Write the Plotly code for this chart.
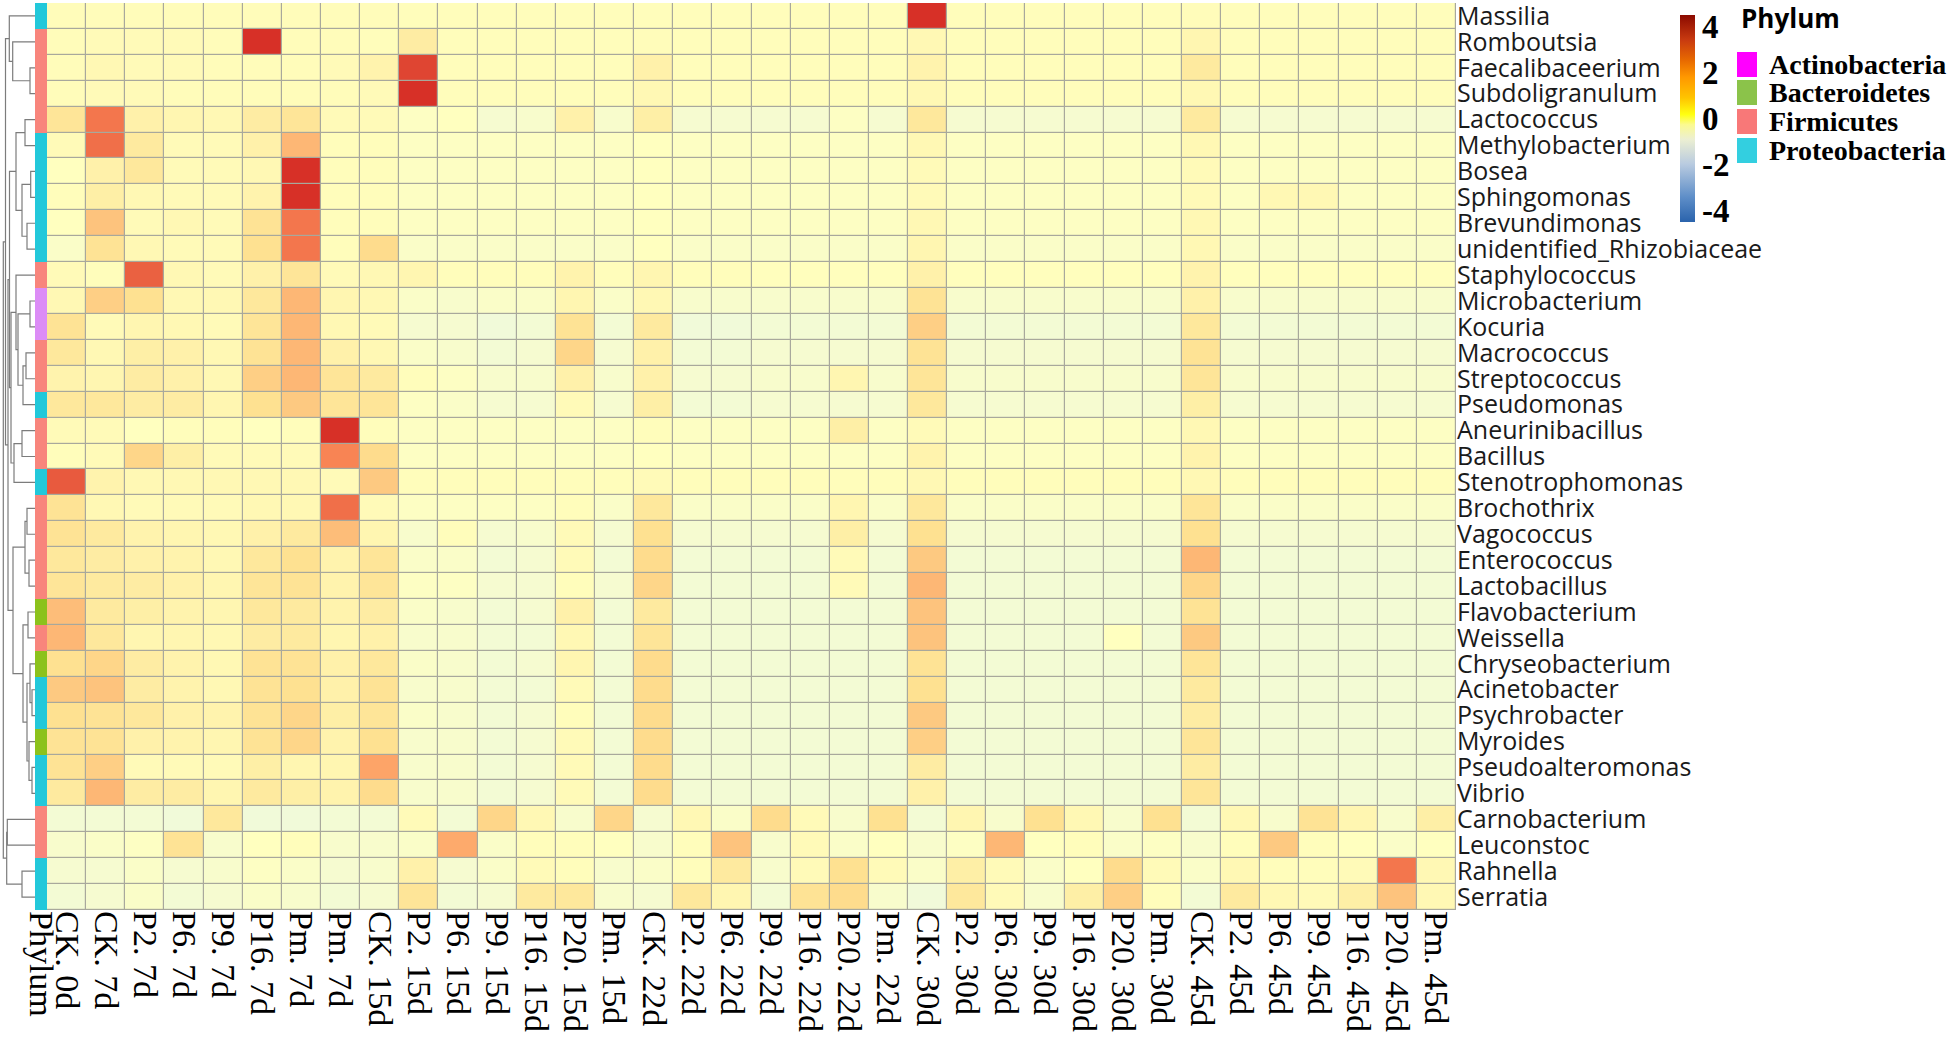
import plotly.graph_objects as go

W, H = 1950, 1047
TOP, BOTTOM = 3, 137
PLOT_H = H - TOP - BOTTOM

genera = ["Massilia", "Romboutsia", "Faecalibaceerium", "Subdoligranulum", "Lactococcus",
          "Methylobacterium", "Bosea", "Sphingomonas", "Brevundimonas", "unidentified_Rhizobiaceae",
          "Staphylococcus", "Microbacterium", "Kocuria", "Macrococcus", "Streptococcus",
          "Pseudomonas", "Aneurinibacillus", "Bacillus", "Stenotrophomonas", "Brochothrix",
          "Vagococcus", "Enterococcus", "Lactobacillus", "Flavobacterium", "Weissella",
          "Chryseobacterium", "Acinetobacter", "Psychrobacter", "Myroides", "Pseudoalteromonas",
          "Vibrio", "Carnobacterium", "Leuconstoc", "Rahnella", "Serratia"]

samples = ["CK. 0d",
           "CK. 7d", "P2. 7d", "P6. 7d", "P9. 7d", "P16. 7d", "Pm. 7d", "Pm. 7d",
           "CK. 15d", "P2. 15d", "P6. 15d", "P9. 15d", "P16. 15d", "P20. 15d", "Pm. 15d",
           "CK. 22d", "P2. 22d", "P6. 22d", "P9. 22d", "P16. 22d", "P20. 22d", "Pm. 22d",
           "CK. 30d", "P2. 30d", "P6. 30d", "P9. 30d", "P16. 30d", "P20. 30d", "Pm. 30d",
           "CK. 45d", "P2. 45d", "P6. 45d", "P9. 45d", "P16. 45d", "P20. 45d", "Pm. 45d"]

phyla = ["Actinobacteria", "Bacteroidetes", "Firmicutes", "Proteobacteria"]
phylum_bar_colors = ["#dc8cf6", "#8cc21c", "#f8857c", "#22c8da"]
phylum_legend_colors = ["#ff00ff", "#8bc34a", "#f87878", "#33cfe0"]

genus_phylum = ["Proteobacteria", "Firmicutes", "Firmicutes", "Firmicutes", "Firmicutes",
                "Proteobacteria", "Proteobacteria", "Proteobacteria", "Proteobacteria", "Proteobacteria",
                "Firmicutes", "Actinobacteria", "Actinobacteria", "Firmicutes", "Firmicutes",
                "Proteobacteria", "Firmicutes", "Firmicutes", "Proteobacteria", "Firmicutes",
                "Firmicutes", "Firmicutes", "Firmicutes", "Bacteroidetes", "Firmicutes",
                "Bacteroidetes", "Proteobacteria", "Proteobacteria", "Bacteroidetes", "Proteobacteria",
                "Proteobacteria", "Firmicutes", "Firmicutes", "Proteobacteria", "Proteobacteria"]

# row z-scores: 0d | 7d x7 | 15d x7 | 22d x7 | 30d x7 | 45d x7
z_scores = [
    [0.15, 0.15, 0.15, 0.15, 0.15, 0.15, 0.15, 0.15, 0.15, 0.1, 0.1, 0.1, 0.1, 0.1, 0.1, 0.1, 0.1, 0.1, 0.1, 0.1, 0.1, 0.1, 4.2, 0.1, 0.1, 0.1, 0.1, 0.1, 0.1, 0.15, 0.1, 0.1, 0.1, 0.1, 0.1, 0.1],
    [0.15, 0.2, 0.2, 0.2, 0.15, 4.0, 0.15, 0.15, 0.1, 0.8, 0.1, 0.1, 0.1, 0.1, 0.1, 0.15, 0.1, 0.1, 0.1, 0.1, 0.1, 0.1, 0.3, 0.1, 0.1, 0.1, 0.1, 0.1, 0.1, 0.4, 0.1, 0.1, 0.1, 0.1, 0.1, 0.1],
    [0.15, 0.3, 0.2, 0.2, 0.15, 0.15, 0.15, 0.2, 0.5, 3.7, 0.1, 0.1, 0.1, 0.1, 0.1, 0.6, 0.1, 0.1, 0.1, 0.1, 0.1, 0.1, 0.5, 0.1, 0.1, 0.1, 0.1, 0.1, 0.1, 0.9, 0.1, 0.1, 0.1, 0.1, 0.1, 0.1],
    [0.15, 0.2, 0.2, 0.15, 0.15, 0.15, 0.15, 0.15, 0.2, 4.2, 0.1, 0.1, 0.1, 0.1, 0.1, 0.3, 0.1, 0.1, 0.1, 0.1, 0.1, 0.1, 0.3, 0.1, 0.1, 0.1, 0.1, 0.1, 0.1, 0.3, 0.1, 0.1, 0.1, 0.1, 0.1, 0.1],
    [1.1, 3.0, 0.6, 0.4, 0.3, 0.8, 1.1, 0.2, 0.2, -0.1, 0.0, -0.4, -0.3, 0.6, -0.3, 0.7, -0.4, -0.4, -0.4, -0.4, -0.1, -0.4, 1.0, -0.4, -0.4, -0.4, -0.4, -0.4, -0.4, 0.9, -0.4, -0.4, -0.4, -0.4, -0.4, -0.4],
    [0.2, 3.1, 0.9, 0.2, 0.2, 0.6, 2.0, 0.1, 0.1, -0.1, -0.1, -0.1, -0.1, -0.1, -0.1, 0.0, -0.1, -0.1, -0.1, -0.1, -0.1, -0.1, 0.3, -0.1, -0.1, -0.1, -0.1, -0.1, -0.1, 0.3, -0.1, -0.1, -0.1, -0.1, -0.1, -0.1],
    [0.0, 0.6, 1.0, 0.2, 0.2, 0.3, 4.0, 0.1, 0.1, -0.1, -0.1, -0.1, -0.1, -0.1, -0.1, 0.0, -0.1, -0.1, -0.1, -0.1, -0.1, -0.1, 0.2, -0.1, -0.1, -0.1, -0.1, -0.1, -0.1, 0.2, -0.1, -0.1, -0.1, -0.1, -0.1, -0.1],
    [0.1, 0.7, 0.3, 0.2, 0.2, 0.5, 4.0, 0.1, 0.1, -0.1, -0.1, -0.1, -0.1, -0.1, -0.1, 0.0, -0.1, -0.1, -0.1, -0.1, -0.1, -0.1, 0.2, -0.1, -0.1, -0.1, -0.1, -0.1, -0.1, 0.2, -0.1, 0.3, 0.3, -0.1, -0.1, -0.1],
    [0.0, 1.8, 0.2, 0.3, 0.2, 1.2, 3.0, 0.1, 0.1, -0.1, -0.1, -0.1, -0.1, -0.1, -0.1, 0.0, -0.1, -0.1, -0.1, -0.1, -0.1, -0.1, 0.3, -0.1, -0.1, -0.1, -0.1, -0.1, -0.1, 0.3, -0.1, -0.1, -0.1, -0.1, -0.1, -0.1],
    [-0.2, 1.2, 0.3, 0.2, 0.2, 1.3, 3.0, 0.1, 1.4, -0.2, -0.2, -0.2, -0.2, -0.2, -0.2, 0.0, -0.2, -0.2, -0.2, -0.2, -0.2, -0.2, 0.4, -0.2, -0.2, -0.2, -0.2, -0.2, -0.2, 0.3, -0.2, -0.2, -0.2, -0.2, -0.2, -0.2],
    [0.2, 0.1, 3.3, 0.3, 0.2, 0.6, 1.1, 0.2, 0.3, 0.4, 0.1, 0.1, 0.1, 0.5, 0.1, 0.4, 0.1, 0.1, 0.05, 0.05, 0.05, 0.05, 0.6, 0.05, 0.05, 0.05, 0.05, 0.05, 0.05, 0.5, 0.05, 0.05, 0.05, 0.05, 0.05, 0.05],
    [0.3, 1.6, 1.3, 0.3, 0.3, 1.0, 2.0, 0.4, 0.3, -0.2, -0.3, -0.2, -0.2, 0.4, -0.2, 0.3, -0.3, -0.3, -0.3, -0.3, -0.3, -0.3, 1.2, -0.3, -0.3, -0.3, -0.3, -0.3, -0.3, 0.6, -0.3, -0.3, -0.3, -0.3, -0.3, -0.3],
    [1.2, 0.2, 0.4, 0.3, 0.2, 1.1, 2.0, 0.3, 0.2, -0.4, -0.4, -0.6, -0.5, 1.2, -0.5, 0.9, -0.6, -0.6, -0.5, -0.5, -0.5, -0.5, 1.6, -0.5, -0.5, -0.5, -0.5, -0.5, -0.5, 1.0, -0.5, -0.5, -0.5, -0.5, -0.5, -0.5],
    [1.0, 0.3, 0.7, 0.6, 0.3, 1.2, 2.0, 0.6, 0.3, -0.2, -0.3, -0.5, -0.4, 1.5, -0.4, 0.6, -0.5, -0.5, -0.4, -0.4, -0.4, -0.4, 1.2, -0.4, -0.4, -0.4, -0.4, -0.4, -0.4, 1.2, -0.4, -0.4, -0.4, -0.4, -0.4, -0.4],
    [0.5, 0.4, 0.8, 0.6, 0.3, 1.6, 2.0, 1.1, 0.9, 0.1, -0.1, -0.3, -0.3, 0.6, -0.3, 0.6, -0.4, -0.4, -0.3, -0.3, 0.4, -0.3, 1.1, -0.3, -0.3, -0.3, -0.3, -0.3, -0.3, 1.1, -0.3, -0.3, -0.3, -0.3, -0.3, -0.3],
    [1.0, 1.0, 0.8, 0.8, 0.4, 1.3, 1.7, 1.1, 1.1, -0.1, -0.2, -0.4, -0.4, 0.2, -0.4, 0.7, -0.5, -0.5, -0.4, -0.4, -0.4, -0.4, 1.0, -0.4, -0.4, -0.4, -0.4, -0.4, -0.4, 0.7, -0.4, -0.4, -0.4, -0.4, -0.4, -0.4],
    [0.2, 0.2, 0.0, 0.1, 0.1, 0.0, 0.1, 4.0, 0.1, -0.1, -0.1, -0.1, -0.1, -0.1, -0.1, 0.1, -0.1, -0.1, -0.1, -0.1, 0.7, -0.1, 0.2, -0.1, -0.1, -0.1, -0.1, -0.1, -0.1, 0.3, -0.1, -0.1, -0.1, -0.1, -0.1, -0.1],
    [0.1, 0.2, 1.5, 0.7, 0.2, 0.2, 0.2, 2.8, 1.4, -0.1, -0.1, -0.1, -0.1, -0.1, -0.1, 0.0, -0.1, -0.1, -0.1, -0.1, -0.1, -0.1, 0.5, -0.1, -0.1, -0.1, -0.1, -0.1, -0.1, 0.5, -0.1, -0.1, -0.1, -0.1, -0.1, -0.1],
    [3.4, 0.5, 0.3, 0.3, 0.3, 0.3, 0.3, 0.2, 1.7, 0.1, 0.1, 0.1, 0.1, 0.1, 0.1, 0.2, 0.1, 0.1, 0.1, 0.1, 0.1, 0.1, 0.3, 0.1, 0.1, 0.1, 0.1, 0.1, 0.1, 0.3, 0.1, 0.1, 0.1, 0.1, 0.1, 0.1],
    [1.2, 0.3, 0.2, 0.2, 0.2, 0.3, 0.3, 3.1, 0.2, -0.1, -0.1, -0.1, -0.1, 0.1, -0.2, 1.0, -0.2, -0.2, -0.2, -0.2, 0.4, -0.2, 1.0, -0.2, -0.2, -0.2, -0.2, -0.2, -0.2, 1.1, -0.2, -0.2, -0.2, -0.2, -0.2, -0.2],
    [1.2, 0.9, 0.5, 0.4, 0.3, 0.6, 0.9, 1.9, 0.4, -0.3, 0.1, -0.4, -0.3, 0.2, -0.4, 1.3, -0.4, -0.4, -0.4, -0.4, 0.7, -0.4, 1.3, -0.4, -0.4, -0.4, -0.4, -0.4, -0.4, 1.3, -0.4, -0.4, -0.4, -0.4, -0.4, -0.4],
    [1.0, 0.8, 0.6, 0.5, 0.3, 1.0, 1.3, 0.5, 1.1, -0.2, -0.2, -0.5, -0.4, 0.2, -0.5, 1.4, -0.5, -0.5, -0.5, -0.5, 0.2, -0.5, 1.7, -0.5, -0.5, -0.5, -0.5, -0.5, -0.5, 2.0, -0.5, -0.5, -0.5, -0.5, -0.5, -0.5],
    [1.1, 0.9, 0.8, 0.6, 0.4, 1.1, 1.2, 0.5, 1.1, -0.1, -0.1, -0.4, -0.4, 0.1, -0.4, 1.5, -0.5, -0.5, -0.5, -0.5, 0.2, -0.5, 2.0, -0.5, -0.5, -0.5, -0.5, -0.5, -0.5, 1.5, -0.5, -0.5, -0.5, -0.5, -0.5, -0.5],
    [1.9, 0.9, 0.7, 0.5, 0.4, 1.0, 0.9, 0.5, 0.8, -0.2, -0.3, -0.5, -0.4, 0.6, -0.5, 0.9, -0.5, -0.5, -0.5, -0.5, -0.5, -0.5, 1.8, -0.5, -0.5, -0.5, -0.5, -0.5, -0.5, 1.2, -0.5, -0.5, -0.5, -0.5, -0.5, -0.5],
    [2.0, 1.0, 0.4, 0.4, 0.3, 0.8, 0.9, 0.4, 0.6, -0.3, -0.3, -0.5, -0.5, 0.3, -0.5, 1.1, -0.5, -0.5, -0.5, -0.5, -0.5, -0.5, 1.8, -0.5, -0.5, -0.5, -0.5, 0.0, -0.5, 1.7, -0.5, -0.5, -0.5, -0.5, -0.5, -0.5],
    [1.3, 1.5, 0.8, 0.5, 0.3, 1.2, 1.2, 0.6, 1.0, -0.2, -0.3, -0.5, -0.4, 0.4, -0.5, 1.4, -0.5, -0.5, -0.5, -0.5, -0.5, -0.5, 1.2, -0.5, -0.5, -0.5, -0.5, -0.5, -0.5, 1.1, -0.5, -0.5, -0.5, -0.5, -0.5, -0.5],
    [1.7, 1.8, 0.8, 0.5, 0.3, 1.2, 1.3, 0.6, 1.2, -0.3, -0.3, -0.5, -0.5, 0.2, -0.5, 1.4, -0.5, -0.5, -0.5, -0.5, -0.5, -0.5, 1.3, -0.5, -0.5, -0.5, -0.5, -0.5, -0.5, 0.9, -0.5, -0.5, -0.5, -0.5, -0.5, -0.5],
    [1.3, 1.2, 1.0, 0.6, 0.5, 1.2, 1.5, 0.7, 1.1, -0.2, -0.3, -0.5, -0.4, 0.1, -0.5, 1.4, -0.5, -0.5, -0.5, -0.5, -0.5, -0.5, 1.7, -0.5, -0.5, -0.5, -0.5, -0.5, -0.5, 0.8, -0.5, -0.5, -0.5, -0.5, -0.5, -0.5],
    [1.2, 1.2, 0.6, 0.5, 0.4, 1.2, 1.5, 0.5, 1.3, -0.3, -0.3, -0.5, -0.4, 0.2, -0.5, 1.4, -0.5, -0.5, -0.5, -0.5, -0.5, -0.5, 1.6, -0.5, -0.5, -0.5, -0.5, -0.5, -0.5, 1.1, -0.5, -0.5, -0.5, -0.5, -0.5, -0.5],
    [1.2, 1.6, 0.2, 0.2, 0.2, 0.7, 0.4, 0.4, 2.3, -0.3, -0.3, -0.5, -0.4, 0.2, -0.5, 1.4, -0.5, -0.5, -0.5, -0.5, -0.5, -0.5, 0.8, -0.5, -0.5, -0.5, -0.5, -0.5, -0.5, 0.8, -0.5, -0.5, -0.5, -0.5, -0.5, -0.5],
    [0.9, 2.0, 0.8, 0.8, 0.4, 0.9, 0.7, 0.5, 1.4, -0.3, -0.3, -0.5, -0.4, 0.2, -0.5, 1.4, -0.5, -0.5, -0.5, -0.5, -0.5, -0.5, 0.6, -0.5, -0.5, -0.5, -0.5, -0.5, -0.5, 1.1, -0.5, -0.5, -0.5, -0.5, -0.5, -0.5],
    [-0.5, -0.5, -0.5, -0.6, 1.0, -0.6, -0.6, -0.5, -0.5, 0.2, -0.5, 1.5, 0.3, -0.3, 1.5, -0.4, 0.3, -0.2, 1.4, 0.2, -0.3, 1.3, -0.5, 0.4, -0.3, 1.3, 0.3, -0.3, 1.3, -0.5, 0.3, -0.3, 1.2, 0.4, -0.3, 0.7],
    [-0.3, -0.2, -0.1, 1.2, -0.3, 0.0, 0.1, -0.3, -0.3, -0.2, 2.2, -0.2, 0.1, 0.1, 0.0, -0.3, 0.1, 1.8, -0.3, 0.2, -0.2, 0.0, -0.3, -0.1, 2.0, 0.0, 0.1, -0.2, -0.1, -0.3, 0.1, 1.7, 0.1, 0.0, -0.2, 0.0],
    [-0.4, -0.4, -0.2, -0.4, -0.3, -0.1, -0.2, -0.4, -0.3, 0.6, -0.4, -0.2, 0.2, 0.1, -0.3, -0.2, 0.1, 0.9, -0.3, 0.2, 1.3, 0.2, -0.2, 0.7, 0.2, -0.2, 0.0, 1.4, 0.2, -0.2, 0.3, 0.1, 0.1, 0.2, 3.0, 0.3],
    [-0.5, -0.4, -0.2, -0.5, -0.4, -0.2, -0.3, -0.5, -0.4, 1.1, -0.5, -0.4, 0.9, 1.0, -0.3, -0.4, 1.0, 0.4, -0.5, 1.2, 1.4, -0.3, -0.6, 1.0, 0.2, -0.3, 0.7, 1.6, 0.1, -0.5, 0.9, 0.3, 0.2, 0.7, 1.8, 0.3],
]

# row dendrogram: [merge height, left, right]; leaves are row indices
row_tree = [31.7,
            [29.5,
             [25.7, 0, [22.3, 1, [5, 2, 3]]],
             [27.0,
              [25.5,
               [19, [10, 4, 5], [13, [4.3, 6, 7], [8, 8, 9]]],
               [24, [19, 10, [17, [5, 11, 12], [12, [9, 13, 14], 15]]],
                [21, [13, 16, 17], 18]]],
              [22,
               [10, [8, 19, 20], [6, 21, 22]],
               [12, [7, 23, 24], [8, [5, 25, [3, 26, 27]], [6, 28, [3, 29, 30]]]]]]],
            [28.3, [27.7, 31, 32], [13, 33, 34]]]

heat_scale = [[0.0, "#4575B4"], [1 / 6, "#91BFDB"], [2 / 6, "#E0F3F8"], [3 / 6, "#FFFFBF"],
              [4 / 6, "#FEE090"], [5 / 6, "#FC8D59"], [1.0, "#D73027"]]
legend_scale = [[0.0, "#2a63ac"], [0.12, "#5e8ec8"], [0.28, "#b9cbe0"], [0.40, "#ecefd2"],
                [0.47, "#fbfa90"], [0.52, "#ffff10"], [0.60, "#ffc400"], [0.70, "#ff9800"],
                [0.78, "#e86a00"], [0.88, "#c83a10"], [1.0, "#8b0a00"]]


def px_x(p):
    return p / W


def px_y(p):
    return 1 - (p - TOP) / PLOT_H


# dendrogram line coordinates
dx, dy = [], []


def walk(node):
    if isinstance(node, int):
        return 0.0, float(node)
    h, left, right = node
    hl, yl = walk(left)
    hr, yr = walk(right)
    dx.extend([hl, h, h, hr, None])
    dy.extend([yl, yl, yr, yr, None])
    return h, (yl + yr) / 2


walk(row_tree)

fig = go.Figure()
fig.add_trace(go.Heatmap(z=z_scores, x=list(range(len(samples))), y=list(range(len(genera))),
                         colorscale=heat_scale, zmin=-4, zmax=4, xgap=1.2, ygap=1.2,
                         showscale=False, hoverinfo="skip", xaxis="x", yaxis="y"))

phy_idx = [[phyla.index(p)] for p in genus_phylum]
bar_scale = []
for i, c in enumerate(phylum_bar_colors):
    bar_scale.append([i / len(phyla), c])
    bar_scale.append([(i + 1) / len(phyla), c])
fig.add_trace(go.Heatmap(z=phy_idx, x=[0], y=list(range(len(genera))), colorscale=bar_scale,
                         zmin=-0.5, zmax=len(phyla) - 0.5, showscale=False, hoverinfo="skip",
                         xaxis="x2", yaxis="y"))

fig.add_trace(go.Scatter(x=dx, y=dy, mode="lines", line=dict(color="#7c7c7c", width=1.2),
                         hoverinfo="skip", showlegend=False, xaxis="x3", yaxis="y"))

# colour key
fig.add_trace(go.Scatter(x=[None], y=[None], mode="markers", showlegend=False, hoverinfo="skip",
                         marker=dict(color=[0], colorscale=legend_scale, cmin=-4.5, cmax=4.5,
                                     showscale=True,
                                     colorbar=dict(x=px_x(1680), xanchor="left", xpad=0,
                                                   y=px_y(15), yanchor="top", ypad=0,
                                                   len=207 / PLOT_H, lenmode="fraction", thickness=15,
                                                   outlinewidth=0, ticks="", ticklen=3,
                                                   tickvals=[-4, -2, 0, 2, 4],
                                                   ticktext=["-4", "-2", "0", "2", "4"],
                                                   tickfont=dict(family="Liberation Serif", size=33,
                                                                 color="black", weight="bold"))),
                         xaxis="x", yaxis="y"))

label_font = dict(family="Liberation Serif", size=34, color="black")
fig.update_layout(
    width=W, height=H, margin=dict(l=0, r=0, t=TOP, b=BOTTOM, autoexpand=False),
    paper_bgcolor="white", plot_bgcolor="white", showlegend=False,
    xaxis=dict(domain=[px_x(47), px_x(1456)], range=[-0.5, len(samples) - 0.5],
               tickvals=list(range(len(samples))), ticktext=samples, tickangle=90,
               tickfont=label_font, showgrid=False, zeroline=False, ticks="", anchor="y",
               automargin=False),
    xaxis2=dict(domain=[px_x(35), px_x(47)], range=[-0.5, 0.5], tickvals=[0], ticktext=["Phylum"],
                tickangle=90, tickfont=label_font, showgrid=False, zeroline=False, ticks="", anchor="y",
                automargin=False),
    xaxis3=dict(domain=[0, px_x(35)], range=[35, 0], visible=False, anchor="y"),
    yaxis=dict(domain=[0, 1], range=[len(genera) - 0.5, -0.5], tickvals=list(range(len(genera))),
               ticktext=genera, side="right", tickfont=dict(family="Open Sans", size=25, color="#1a1a1a"),
               showgrid=False, zeroline=False, ticks="", anchor="x", ticklabeloverflow="allow",
               automargin=False),
)

fig.add_shape(type="rect", xref="x", yref="y", x0=-0.5, x1=len(samples) - 0.5, y0=-0.5,
              y1=len(genera) - 0.5, fillcolor="#a8a89c", line=dict(width=0), layer="below")

# phylum legend
fig.add_annotation(x=px_x(1739), y=px_y(18), xref="paper", yref="paper", xanchor="left", yanchor="middle",
                   text="Phylum", showarrow=False,
                   font=dict(family="Open Sans", size=26, color="black", weight="bold"))
item_tops = [52, 80, 109, 138]
for name, col, top in zip(phyla, phylum_legend_colors, item_tops):
    fig.add_shape(type="rect", xref="paper", yref="paper", x0=px_x(1737), x1=px_x(1757),
                  y0=px_y(top + 25), y1=px_y(top), fillcolor=col, line=dict(width=0))
    fig.add_annotation(x=px_x(1767), y=px_y(top + 12.5), xref="paper", yref="paper", xanchor="left",
                       yanchor="middle", text=name, showarrow=False,
                       font=dict(family="Liberation Serif", size=28, color="black", weight="bold"))

fig.write_html("out.html", config={"displayModeBar": False},
               post_script="document.body.style.margin='0px';")
